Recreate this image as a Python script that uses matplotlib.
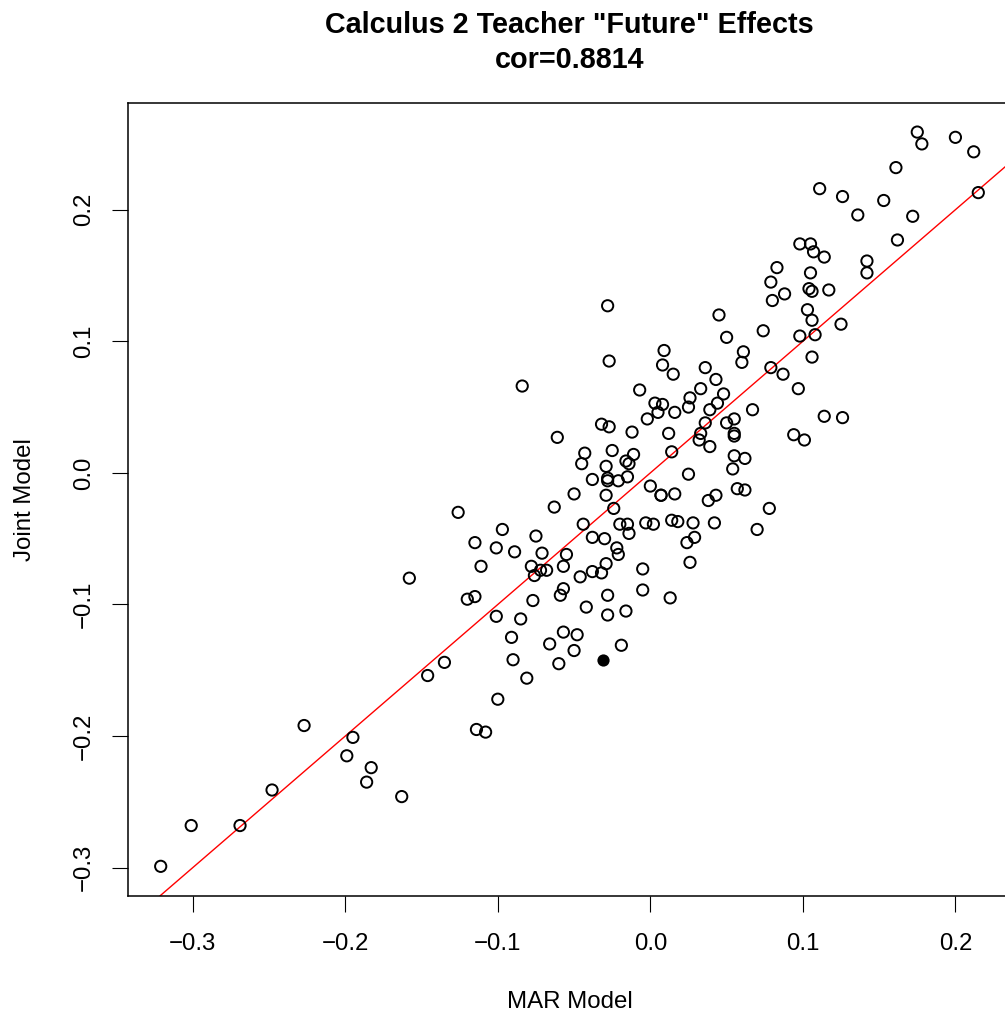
#!/usr/bin/env python3
# -*- coding: utf-8 -*-
"""
Teacher "future" effects: MAR model vs joint model, R base-graphics look.
Identity line in red, one highlighted teacher as a filled dot.
"""

import numpy as np
import matplotlib
matplotlib.use("Agg")
import matplotlib.pyplot as plt

plt.rcParams['font.family'] = ['Liberation Sans', 'DejaVu Sans']

TITLE = 'Calculus 2 Teacher "Future" Effects'
SUBTITLE = "cor=0.8814"
XLABEL = "MAR Model"
YLABEL = "Joint Model"

# estimated teacher effects (x = MAR model, y = joint model)
mar = [
    -0.158, -0.146, -0.135, -0.227, -0.195, -0.199, -0.183, -0.186, -0.163, -0.248,
    -0.301, -0.269, -0.321, -0.126, -0.063, -0.024, -0.029, -0.044, -0.020, -0.015,
    -0.014, -0.003, 0.002, -0.097, -0.075, -0.038, -0.030, -0.115, -0.101, -0.089,
    -0.071, -0.055, -0.022, -0.021, -0.111, -0.078, -0.076, -0.072, -0.068, -0.057,
    -0.046, -0.038, -0.032, -0.029, -0.005, -0.005, -0.120, -0.115, -0.057, -0.059,
    -0.077, -0.028, -0.042, -0.028, -0.016, -0.101, -0.085, -0.057, -0.048, -0.091,
    -0.066, -0.050, -0.019, -0.090, -0.060, -0.081, -0.100, -0.114, -0.108,
    -0.028, -0.027, -0.084, -0.007, -0.032, -0.027, -0.012, -0.061, -0.043, -0.025,
    -0.045, -0.029, -0.011, -0.016, -0.014, -0.015, -0.038, -0.028, -0.028, -0.021,
    0.000, -0.050,
    0.098, 0.105, 0.107, 0.114, 0.083, 0.105, 0.079, 0.104, 0.106, 0.117,
    0.088, 0.080, 0.103, 0.045, 0.106, 0.125, 0.074, 0.050, 0.098, 0.108,
    0.009, 0.061, 0.060, 0.106, 0.008, 0.036, 0.015, 0.079, 0.087, 0.043,
    0.033, 0.097, 0.048, 0.026, 0.044, 0.003, 0.008, 0.025, 0.039, 0.067,
    0.005, 0.016, -0.002, 0.055, 0.050, 0.036, 0.114, 0.126, 0.012, 0.033,
    0.055, 0.055, 0.032, 0.094, 0.101, 0.039, 0.014, 0.055, 0.062, 0.054,
    0.025, 0.007, 0.016, 0.007, 0.038, 0.043, 0.057, 0.062, 0.078, 0.014,
    0.018, 0.028, 0.042, 0.070, 0.029, 0.024, 0.026, 0.013,
    0.175, 0.178, 0.200, 0.212, 0.161, 0.111, 0.126, 0.153, 0.215, 0.136,
    0.172, 0.162, 0.142, 0.142,
]
joint = [
    -0.080, -0.154, -0.144, -0.192, -0.201, -0.215, -0.224, -0.235, -0.246, -0.241,
    -0.268, -0.268, -0.299, -0.030, -0.026, -0.027, -0.017, -0.039, -0.039, -0.039,
    -0.046, -0.038, -0.039, -0.043, -0.048, -0.049, -0.050, -0.053, -0.057, -0.060,
    -0.061, -0.062, -0.057, -0.062, -0.071, -0.071, -0.078, -0.074, -0.074, -0.071,
    -0.079, -0.075, -0.076, -0.069, -0.073, -0.089, -0.096, -0.094, -0.088, -0.093,
    -0.097, -0.093, -0.102, -0.108, -0.105, -0.109, -0.111, -0.121, -0.123, -0.125,
    -0.130, -0.135, -0.131, -0.142, -0.145, -0.156, -0.172, -0.195, -0.197,
    0.127, 0.085, 0.066, 0.063, 0.037, 0.035, 0.031, 0.027, 0.015, 0.017,
    0.007, 0.005, 0.014, 0.009, 0.007, -0.003, -0.005, -0.004, -0.006, -0.006,
    -0.010, -0.016,
    0.174, 0.174, 0.168, 0.164, 0.156, 0.152, 0.145, 0.140, 0.138, 0.139,
    0.136, 0.131, 0.124, 0.120, 0.116, 0.113, 0.108, 0.103, 0.104, 0.105,
    0.093, 0.092, 0.084, 0.088, 0.082, 0.080, 0.075, 0.080, 0.075, 0.071,
    0.064, 0.064, 0.060, 0.057, 0.053, 0.053, 0.052, 0.050, 0.048, 0.048,
    0.046, 0.046, 0.041, 0.041, 0.038, 0.038, 0.043, 0.042, 0.030, 0.030,
    0.030, 0.028, 0.025, 0.029, 0.025, 0.020, 0.016, 0.013, 0.011, 0.003,
    -0.001, -0.017, -0.016, -0.017, -0.021, -0.017, -0.012, -0.013, -0.027, -0.036,
    -0.037, -0.038, -0.038, -0.043, -0.049, -0.053, -0.068, -0.095,
    0.259, 0.250, 0.255, 0.244, 0.232, 0.216, 0.210, 0.207, 0.213, 0.196,
    0.195, 0.177, 0.161, 0.152,
]

# the one highlighted teacher
hl_mar = [-0.031]
hl_joint = [-0.142]

xticks = [-0.3, -0.2, -0.1, 0.0, 0.1, 0.2]
yticks = [-0.3, -0.2, -0.1, 0.0, 0.1, 0.2]
xtick_labels = ["\u22120.3", "\u22120.2", "\u22120.1", "0.0", "0.1", "0.2"]
ytick_labels = ["\u22120.3", "\u22120.2", "\u22120.1", "0.0", "0.1", "0.2"]


def r_lim(v):
    """R-style axis range: data range padded by 4% on each side."""
    lo, hi = min(v), max(v)
    pad = 0.04 * (hi - lo)
    return lo - pad, hi + pad


def main():
    W, H = 1005, 1017
    fig = plt.figure(figsize=(W / 100, H / 100), dpi=100)

    # plot box in pixels (right edge runs a little past the image, as in the source)
    left, right, top, bottom = 128, 1011, 102.7, 895.7
    ax = fig.add_axes([left / W, (H - bottom) / H, (right - left) / W, (bottom - top) / H])

    ax.scatter(mar, joint, s=8.1 ** 2, facecolors='none', edgecolors='black',
               linewidths=1.4, zorder=3)
    ax.scatter(hl_mar, hl_joint, s=8.8 ** 2, color='black', linewidths=0, zorder=3)
    ax.axline((0, 0), slope=1, color='red', lw=1.0, zorder=2)

    ax.set_xlim(r_lim(mar + hl_mar))
    ax.set_ylim(r_lim(joint + hl_joint))

    ax.set_xticks(xticks)
    ax.set_xticklabels(xtick_labels)
    ax.set_yticks(yticks)
    ax.set_yticklabels(ytick_labels, rotation=90, va='center')
    ax.tick_params(axis='both', direction='out', length=11.3, width=0.8,
                   labelsize=17.3, colors='black')
    ax.tick_params(axis='x', pad=15.2)
    ax.tick_params(axis='y', pad=12.7)
    for sp in ax.spines.values():
        sp.set_linewidth(1.1)

    cx = (left + right) / 2 / W
    fig.text(cx, 1 - 32.8 / H, TITLE, ha='center', va='baseline',
             fontsize=20.7, fontweight='bold')
    fig.text(cx, 1 - 68.5 / H, SUBTITLE, ha='center', va='baseline',
             fontsize=20.7, fontweight='bold')
    fig.text(cx, 1 - 1008 / H, XLABEL, ha='center', va='baseline', fontsize=17.3)
    fig.text(30.7 / W, 1 - (top + bottom) / 2 / H, YLABEL, ha='center', va='baseline',
             rotation=90, rotation_mode='anchor', fontsize=17.3)

    fig.savefig("out.png", dpi=100)


if __name__ == "__main__":
    main()
